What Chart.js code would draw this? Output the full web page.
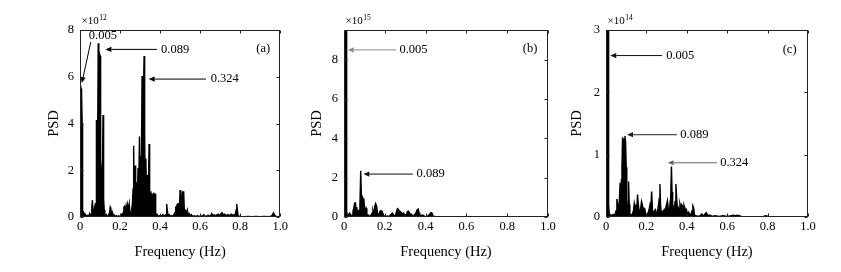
<!DOCTYPE html>
<html><head><meta charset="utf-8">
<script src="https://cdn.jsdelivr.net/npm/chart.js@4.4.1/dist/chart.umd.min.js"></script>
<style>
html,body{margin:0;padding:0;background:#fff;width:841px;height:272px;overflow:hidden}
.p{position:absolute;top:0;height:272px}
canvas{display:block}
</style></head><body>
<div class="p" style="left:0;width:290px"><canvas id="ca" width="290" height="272"></canvas></div>
<div class="p" style="left:290px;width:270px"><canvas id="cb" width="270" height="272"></canvas></div>
<div class="p" style="left:560px;width:281px"><canvas id="cc" width="281" height="272"></canvas></div>
<script>
// ---- data ----
const xTickValues = [0, 0.2, 0.4, 0.6, 0.8, 1.0];
const yMaxA = 8, yMaxB = 9.5, yMaxC = 3;
const expA = '12', expB = '15', expC = '14';
const panelLabels = ['(a)', '(b)', '(c)'];
const peakLabelsA = ['0.005', '0.089', '0.324'];
const peakLabelsB = ['0.005', '0.089'];
const peakLabelsC = ['0.005', '0.089', '0.324'];

const freqA = [0,0.002,0.005,0.008,0.011,0.013,0.015,0.018,0.021,0.024,
0.028,0.032,0.036,0.040,0.044,0.048,0.052,0.056,0.059,0.062,
0.065,0.068,0.071,0.074,0.077,0.080,0.082,0.085,0.088,0.091,
0.094,0.097,0.100,0.103,0.106,0.109,0.112,0.115,0.118,0.121,
0.124,0.128,0.132,0.136,0.140,0.144,0.148,0.151,0.154,0.157,
0.160,0.164,0.168,0.172,0.176,0.182,0.188,0.194,0.200,0.206,
0.212,0.216,0.219,0.222,0.226,0.230,0.234,0.238,0.242,0.246,
0.250,0.254,0.258,0.262,0.265,0.268,0.271,0.275,0.278,0.281,
0.284,0.287,0.290,0.293,0.297,0.300,0.303,0.306,0.310,0.313,
0.316,0.320,0.323,0.326,0.329,0.332,0.335,0.338,0.342,0.345,
0.348,0.351,0.354,0.357,0.360,0.363,0.366,0.369,0.372,0.375,
0.378,0.382,0.386,0.390,0.396,0.402,0.408,0.414,0.420,0.426,
0.430,0.433,0.436,0.440,0.446,0.452,0.458,0.464,0.470,0.475,
0.478,0.481,0.484,0.487,0.490,0.493,0.496,0.500,0.503,0.506,
0.509,0.512,0.515,0.518,0.521,0.524,0.528,0.532,0.536,0.540,
0.545,0.550,0.556,0.562,0.570,0.578,0.586,0.594,0.602,0.610,
0.618,0.624,0.632,0.640,0.646,0.652,0.658,0.664,0.670,0.676,
0.682,0.690,0.698,0.704,0.710,0.716,0.722,0.730,0.738,0.746,
0.754,0.762,0.770,0.776,0.780,0.783,0.786,0.790,0.798,0.806,
0.820,0.840,0.860,0.880,0.900,0.920,0.940,0.955,0.962,0.966,
0.970,0.975,0.982,0.990,1.000];
const psdA = [5.6,5.65,5.5,5.2,4.0,0.3,0.05,0.2,0.15,0.04,
0.1,0.03,0.06,0.02,0.05,0.15,0.05,0.1,0.4,0.72,
0.15,0.05,0.3,0.1,0.6,0.4,4.15,1.8,3.0,7.43,
4.0,7.0,6.9,2.5,2.0,1.2,1.6,4.36,0.8,0.3,
0.1,0.05,0.1,0.03,0.05,0.1,0.2,0.42,0.35,0.2,
0.08,0.15,0.04,0.08,0.02,0.06,0.02,0.05,0.02,0.08,
0.15,0.05,0.4,0.45,0.3,0.48,0.2,0.52,0.3,0.55,
0.1,0.05,0.3,0.6,1.2,3.05,0.9,2.2,0.6,1.5,
0.6,0.9,2.1,1.0,3.44,1.2,2.6,1.5,6.03,2.2,
4.5,6.89,3.5,1.2,2.5,1.0,1.8,0.8,1.2,3.12,
1.0,0.6,1.1,0.4,1.0,0.5,0.9,1.05,0.4,1.0,
0.2,0.05,0.1,0.03,0.06,0.02,0.05,0.1,0.03,0.08,
0.1,0.56,0.3,0.05,0.1,0.03,0.06,0.03,0.12,0.2,
0.45,0.3,0.55,0.2,0.6,0.3,0.15,1.15,0.5,0.2,
0.8,1.1,0.6,1.1,0.3,0.1,0.25,0.15,0.3,0.1,
0.15,0.05,0.1,0.03,0.05,0.02,0.06,0.02,0.04,0.03,
0.1,0.05,0.03,0.08,0.03,0.05,0.15,0.05,0.1,0.05,
0.08,0.12,0.05,0.15,0.18,0.08,0.12,0.06,0.1,0.05,
0.12,0.08,0.1,0.12,0.3,0.56,0.3,0.05,0.03,0.02,
0.01,0.02,0.01,0.02,0.01,0.02,0.01,0.03,0.1,0.18,
0.12,0.05,0.02,0.01,0.01];

const freqB = [0,0.002,0.005,0.008,0.011,0.013,0.016,0.020,0.024,0.028,
0.032,0.036,0.040,0.044,0.048,0.052,0.056,0.060,0.063,0.066,
0.070,0.074,0.078,0.082,0.085,0.088,0.091,0.094,0.097,0.100,
0.104,0.108,0.112,0.116,0.120,0.126,0.132,0.138,0.142,0.146,
0.150,0.155,0.160,0.164,0.168,0.172,0.177,0.182,0.186,0.190,
0.194,0.200,0.206,0.212,0.220,0.226,0.232,0.238,0.242,0.248,
0.254,0.258,0.262,0.267,0.271,0.275,0.279,0.283,0.287,0.291,
0.295,0.299,0.305,0.311,0.316,0.321,0.325,0.329,0.334,0.340,
0.346,0.352,0.356,0.360,0.364,0.368,0.372,0.376,0.380,0.386,
0.392,0.398,0.404,0.410,0.416,0.421,0.426,0.431,0.436,0.446,
0.460,0.480,0.500,0.600,0.800,1.000];
const psdB = [9.5,9.5,9.5,9.5,9.5,0.3,0.1,0.05,0.15,0.2,
0.1,0.05,0.1,0.3,0.45,0.7,0.72,0.3,0.5,0.1,
0.3,0.35,0.6,2.35,1.1,1.0,1.0,0.9,0.95,0.5,
0.35,0.45,0.2,0.05,0.1,0.03,0.08,0.2,0.3,0.1,
0.5,0.68,0.55,0.2,0.1,0.15,0.3,0.32,0.3,0.2,
0.08,0.05,0.03,0.05,0.03,0.08,0.15,0.2,0.1,0.05,
0.15,0.3,0.42,0.38,0.3,0.15,0.25,0.2,0.1,0.2,
0.15,0.08,0.1,0.28,0.3,0.2,0.1,0.15,0.1,0.05,
0.12,0.2,0.3,0.38,0.4,0.2,0.1,0.05,0.08,0.1,
0.05,0.03,0.02,0.05,0.1,0.15,0.22,0.2,0.05,0.02,
0.01,0.02,0.01,0.005,0.005,0.005];

const freqC = [0,0.002,0.005,0.008,0.011,0.013,0.016,0.020,0.025,0.030,
0.035,0.040,0.045,0.050,0.054,0.058,0.062,0.066,0.070,0.073,
0.076,0.079,0.082,0.085,0.088,0.091,0.094,0.097,0.100,0.103,
0.106,0.109,0.112,0.115,0.118,0.124,0.130,0.136,0.140,0.144,
0.148,0.152,0.156,0.160,0.164,0.168,0.172,0.176,0.180,0.184,
0.188,0.192,0.196,0.200,0.206,0.212,0.218,0.222,0.226,0.230,
0.234,0.240,0.245,0.250,0.255,0.260,0.264,0.267,0.270,0.274,
0.278,0.284,0.288,0.292,0.296,0.300,0.304,0.308,0.312,0.316,
0.320,0.324,0.327,0.330,0.334,0.338,0.342,0.346,0.350,0.354,
0.358,0.362,0.366,0.370,0.374,0.378,0.382,0.386,0.390,0.394,
0.398,0.402,0.408,0.414,0.420,0.426,0.430,0.434,0.438,0.446,
0.456,0.466,0.474,0.478,0.484,0.490,0.496,0.502,0.508,0.516,
0.524,0.540,0.560,0.580,0.600,0.620,0.630,0.640,0.650,0.660,
0.670,0.700,0.780,0.790,0.800,0.810,1.000];
const psdC = [2.99,2.99,2.99,2.99,2.99,0.2,0.06,0.04,0.03,0.02,
0.04,0.03,0.05,0.1,0.29,0.2,0.05,0.25,0.55,0.3,
0.6,0.8,1.28,0.9,1.26,1.0,1.3,1.2,0.8,0.3,
0.1,0.2,0.57,0.2,0.05,0.03,0.05,0.1,0.22,0.15,
0.2,0.1,0.36,0.2,0.1,0.05,0.15,0.25,0.2,0.1,
0.14,0.13,0.05,0.02,0.05,0.1,0.2,0.15,0.41,0.12,
0.05,0.1,0.12,0.05,0.08,0.2,0.3,0.53,0.2,0.05,
0.08,0.1,0.12,0.08,0.15,0.2,0.26,0.15,0.1,0.2,
0.3,0.81,0.4,0.2,0.15,0.1,0.25,0.53,0.3,0.12,
0.15,0.1,0.21,0.15,0.2,0.18,0.12,0.19,0.15,0.1,
0.12,0.05,0.08,0.05,0.03,0.1,0.18,0.15,0.03,0.02,
0.01,0.02,0.05,0.03,0.02,0.05,0.07,0.04,0.02,0.03,
0.01,0.02,0.01,0.02,0.01,0.02,0.03,0.02,0.03,0.02,
0.01,0.005,0.01,0.02,0.015,0.005,0.003];

// ---- annotation placement (data coordinates) ----
const annA = [
  {text: peakLabelsA[0], tip:[0.009,5.73], tail:[0.054,7.49], txt:[0.044,7.74], color:'#000'},
  {text: peakLabelsA[1], tip:[0.127,7.17], tail:[0.384,7.17], txt:[0.405,7.17], color:'#000'},
  {text: peakLabelsA[2], tip:[0.343,5.90], tail:[0.629,5.90], txt:[0.653,5.90], color:'#000'}
];
const annB = [
  {text: peakLabelsB[0], tip:[0.018,8.49], tail:[0.256,8.49], txt:[0.272,8.49], color:'#8a8a8a'},
  {text: peakLabelsB[1], tip:[0.095,2.18], tail:[0.337,2.18], txt:[0.356,2.18], color:'#111'}
];
const annC = [
  {text: peakLabelsC[0], tip:[0.021,2.59], tail:[0.277,2.59], txt:[0.298,2.59], color:'#111'},
  {text: peakLabelsC[1], tip:[0.104,1.32], tail:[0.351,1.32], txt:[0.368,1.32], color:'#222'},
  {text: peakLabelsC[2], tip:[0.305,0.87], tail:[0.549,0.87], txt:[0.565,0.87], color:'#666'}
];

const SERIF = '"Liberation Serif", "Times New Roman", serif';

const framePlugin = {
  id: 'frame',
  afterDraw(chart, args, o) {
    const {ctx, chartArea: a, scales: {x, y}} = chart;
    ctx.save();
    ctx.strokeStyle = '#222';
    ctx.lineWidth = 1;
    const L = Math.round(a.left) + 0.5, R = Math.round(a.right) - 0.5;
    const T = Math.round(a.top) + 0.5, B = Math.round(a.bottom) - 0.5;
    ctx.strokeRect(L, T, R - L, B - T);
    ctx.beginPath();
    x.ticks.forEach(t => {
      const px = Math.round(x.getPixelForValue(t.value)) + 0.5;
      ctx.moveTo(px, B); ctx.lineTo(px, B - 3);
      ctx.moveTo(px, T); ctx.lineTo(px, T + 3);
    });
    y.ticks.forEach(t => {
      const py = Math.round(y.getPixelForValue(t.value)) + 0.5;
      ctx.moveTo(L, py); ctx.lineTo(L + 3, py);
      ctx.moveTo(R, py); ctx.lineTo(R - 3, py);
    });
    ctx.stroke();

    // annotations
    (o.annos || []).forEach(an => {
      const tx = x.getPixelForValue(an.tip[0]), ty = y.getPixelForValue(an.tip[1]);
      const sx = x.getPixelForValue(an.tail[0]), sy = y.getPixelForValue(an.tail[1]);
      ctx.strokeStyle = an.color; ctx.fillStyle = an.color; ctx.lineWidth = 1;
      const ang = Math.atan2(ty - sy, tx - sx);
      const hl = 6, hw = 2.6;
      const bx = tx - hl * Math.cos(ang), by = ty - hl * Math.sin(ang);
      ctx.beginPath(); ctx.moveTo(sx, sy); ctx.lineTo(bx, by); ctx.stroke();
      ctx.beginPath();
      ctx.moveTo(tx, ty);
      ctx.lineTo(bx + hw * Math.sin(ang), by - hw * Math.cos(ang));
      ctx.lineTo(bx - hw * Math.sin(ang), by + hw * Math.cos(ang));
      ctx.closePath(); ctx.fill();
      ctx.fillStyle = '#000';
      ctx.font = '12.5px ' + SERIF;
      ctx.textAlign = 'left'; ctx.textBaseline = 'middle';
      ctx.fillText(an.text, x.getPixelForValue(an.txt[0]), y.getPixelForValue(an.txt[1]));
    });

    // panel tag
    ctx.fillStyle = '#000';
    ctx.font = '12.5px ' + SERIF;
    ctx.textAlign = 'center'; ctx.textBaseline = 'middle';
    ctx.fillText(o.tag, x.getPixelForValue(o.tagPos[0]), y.getPixelForValue(o.tagPos[1]));

    // exponent
    ctx.textAlign = 'left'; ctx.textBaseline = 'alphabetic';
    ctx.font = '11px ' + SERIF;
    const ex = a.left + 1.5, ey = a.top - 6;
    ctx.fillText('\u00d710', ex, ey);
    const w = ctx.measureText('\u00d710').width;
    ctx.font = '7.5px ' + SERIF;
    ctx.fillText(o.exp, ex + w + 0.5, ey - 4.5);
    ctx.restore();
  }
};

function makeChart(id, freq, psd, cfg) {
  const pts = freq.map((f, i) => ({x: f, y: psd[i]}));
  return new Chart(document.getElementById(id), {
    type: 'line',
    data: { datasets: [{
      data: pts, borderColor: '#000', backgroundColor: '#000',
      borderWidth: 1.4, fill: 'origin', pointRadius: 0, tension: 0
    }]},
    options: {
      responsive: false, animation: false, devicePixelRatio: 1,
      layout: { padding: { top: 30, right: cfg.padRight, bottom: 0, left: 0 } },
      plugins: {
        legend: { display: false }, tooltip: { enabled: false },
        frame: { annos: cfg.annos, tag: cfg.tag, tagPos: cfg.tagPos, exp: cfg.exp }
      },
      scales: {
        x: {
          type: 'linear', min: 0, max: 1,
          afterBuildTicks: s => { s.ticks = xTickValues.map(v => ({value: v})); },
          ticks: {
            color: '#000', padding: 2, maxRotation: 0, autoSkip: false,
            font: { family: SERIF, size: 12.5 },
            callback: v => v === 0 ? '0' : Number(v).toFixed(1)
          },
          grid: { display: false, drawTicks: false },
          border: { display: false },
          title: { display: true, text: 'Frequency (Hz)', color: '#000',
                   font: { family: SERIF, size: 14.5 }, padding: { top: 0, bottom: 11 } },
          afterFit: s => { s.height = 55; }
        },
        y: {
          type: 'linear', min: 0, max: cfg.yMax,
          ticks: {
            stepSize: cfg.yStep, includeBounds: false, color: '#000', padding: 6,
            font: { family: SERIF, size: 12.5 },
            callback: v => String(v)
          },
          grid: { display: false, drawTicks: false },
          border: { display: false },
          title: { display: true, text: 'PSD', color: '#000',
                   font: { family: SERIF, size: 14.5 }, padding: { top: cfg.titlePad, bottom: 0 } },
          afterFit: s => { s.width = cfg.yWidth; }
        }
      }
    },
    plugins: [framePlugin]
  });
}

makeChart('ca', freqA, psdA, { yMax: yMaxA, yStep: 2, yWidth: 80, padRight: 6, titlePad: 45,
  annos: annA, tag: panelLabels[0], tagPos: [0.915, 7.22], exp: expA });
makeChart('cb', freqB, psdB, { yMax: yMaxB, yStep: 2, yWidth: 54, padRight: 12, titlePad: 18,
  annos: annB, tag: panelLabels[1], tagPos: [0.912, 8.54], exp: expB });
makeChart('cc', freqC, psdC, { yMax: yMaxC, yStep: 1, yWidth: 46, padRight: 33, titlePad: 8,
  annos: annC, tag: panelLabels[2], tagPos: [0.909, 2.68], exp: expC });
</script>
</body></html>
